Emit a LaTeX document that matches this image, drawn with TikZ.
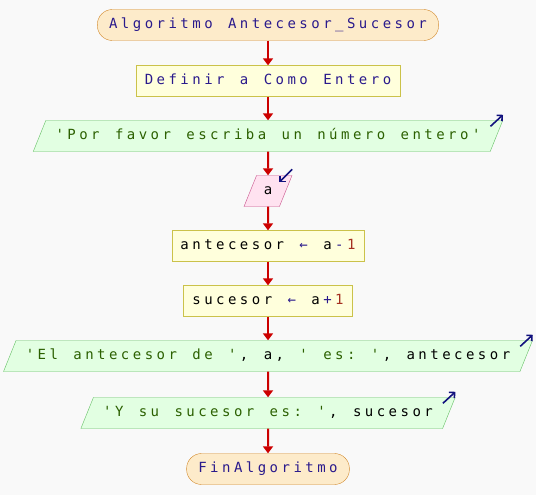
\documentclass[tikz,border=0pt]{standalone}
\usepackage{fontspec}
\setmonofont{DejaVu Sans Mono}
\usepackage{xcolor}
\usepackage{tikz}
\usetikzlibrary{positioning, shapes.geometric, arrows.meta}

\definecolor{bgcol}{HTML}{F9F9F9}
\definecolor{termfill}{HTML}{FDEBCA}
\definecolor{termdraw}{HTML}{D38A2C}
\definecolor{procfill}{HTML}{FFFFDC}
\definecolor{procdraw}{HTML}{CBC24A}
\definecolor{outfill}{HTML}{E2FFE2}
\definecolor{outdraw}{HTML}{64C064}
\definecolor{infill}{HTML}{FFE2F0}
\definecolor{indraw}{HTML}{C8508A}
\definecolor{arrowred}{HTML}{CC0000}
\definecolor{txtblue}{HTML}{2A1A8C}
\definecolor{txtgreen}{HTML}{2B6000}
\definecolor{numred}{HTML}{A53020}
\definecolor{iconblue}{HTML}{12127E}

% every character in a cell of the same width
\ExplSyntaxOn
\NewDocumentCommand{\monotext}{m}{\str_map_inline:nn {#1} {\makebox[11.9pt]{##1}}}
\ExplSyntaxOff
\newcommand{\pseint}{\ttfamily\fontsize{14pt}{15pt}\selectfont}
\newcommand{\strlit}[1]{\textcolor{txtgreen}{\monotext{#1}}}
\newcommand{\oplit}[1]{\textcolor{txtblue}{\monotext{#1}}}
\newcommand{\numlit}[1]{\textcolor{numred}{\monotext{#1}}}

\tikzstyle{textbox} = [text height=10.5pt, text depth=3.5pt, inner ysep=8.5pt, font=\pseint]
\tikzstyle{startstop} = [textbox, rectangle, draw=termdraw, fill=termfill, rounded corners=15pt,
    inner xsep=10pt, text=txtblue]
\tikzstyle{block} = [textbox, rectangle, draw=procdraw, fill=procfill, inner xsep=7pt]
\tikzstyle{outblock} = [textbox, trapezium, trapezium left angle=68, trapezium right angle=112,
    draw=outdraw, fill=outfill, inner xsep=8pt]
\tikzstyle{inblock} = [textbox, trapezium, trapezium left angle=68, trapezium right angle=112,
    draw=indraw, fill=infill, inner xsep=5.5pt]
\tikzstyle{line} = [draw=arrowred, line width=2pt]
\tikzstyle{icon} = [draw=iconblue, line width=1.6pt, -{Straight Barb[length=4pt,width=8pt]}]

\begin{document}
\begin{tikzpicture}[auto, node distance=55pt, >={Triangle[length=7pt,width=10pt]}]
                \fill [bgcol] (0,0) rectangle (536pt,-495pt);
                \useasboundingbox (0,0) rectangle (536pt,-495pt);

                % Nodes
                \node [startstop] (start) at (268pt,-25pt) {\monotext{Algoritmo Antecesor_Sucesor}};
                \node [block, text=txtblue, below of=start, node distance=56pt] (def) {\monotext{Definir a Como Entero}};
                \node [outblock, below of=def] (out1) {\strlit{'Por favor escriba un número entero'}};
                \node [inblock, below of=out1] (inp) {\monotext{a}};
                \node [block, below of=inp] (ant) {\monotext{antecesor }\oplit{←}\monotext{ a}\oplit{-}\numlit{1}};
                \node [block, below of=ant] (suc) {\monotext{sucesor }\oplit{←}\monotext{ a}\oplit{+}\numlit{1}};
                \node [outblock, below of=suc] (out2) {\strlit{'El antecesor de '}\monotext{, a, }\strlit{' es: '}\monotext{, antecesor}};
                \node [outblock, below of=out2, node distance=57pt] (out3) {\strlit{'Y su sucesor es: '}\monotext{, sucesor}};
                \node [startstop, below of=out3, node distance=56pt] (fin) {\monotext{FinAlgoritmo}};

                % Connections
                \draw [line,->] (start) -- (def);
                \draw [line,->] (def) -- (out1);
                \draw [line,->] (out1) -- (inp);
                \draw [line,->] (inp) -- (ant);
                \draw [line,->] (ant) -- (suc);
                \draw [line,->] (suc) -- (out2);
                \draw [line,->] (out2) -- (out3);
                \draw [line,->] (out3) -- (fin);

                % in/out marks
                \draw [icon] ([shift={(-12.5pt,-6pt)}]out1.top right corner) -- ([shift={(0pt,5.5pt)}]out1.top right corner);
                \draw [icon] ([shift={(0pt,6pt)}]inp.top right corner) -- ([shift={(-13pt,-7pt)}]inp.top right corner);
                \draw [icon] ([shift={(-12.5pt,-6pt)}]out2.top right corner) -- ([shift={(0pt,5.5pt)}]out2.top right corner);
                \draw [icon] ([shift={(-12.5pt,-6pt)}]out3.top right corner) -- ([shift={(0pt,5.5pt)}]out3.top right corner);

            \end{tikzpicture}
\end{document}
